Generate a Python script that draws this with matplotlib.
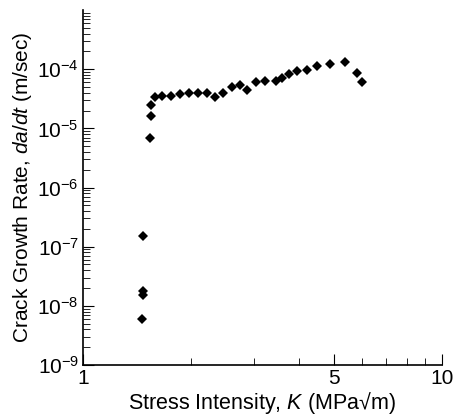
import matplotlib
matplotlib.use("Agg")
import matplotlib.pyplot as plt
from matplotlib.ticker import FixedLocator, LogLocator, NullFormatter

plt.rcParams['font.family'] = ['Liberation Sans', 'DejaVu Sans']
plt.rcParams['mathtext.fontset'] = 'custom'
plt.rcParams['mathtext.rm'] = 'Liberation Sans'
plt.rcParams['mathtext.it'] = 'Liberation Sans:italic'

# stress intensity K (MPa sqrt m) and crack growth rate da/dt (m/sec)
stress_k = [1.46, 1.47, 1.47, 1.47, 1.54, 1.55, 1.55, 1.59, 1.66, 1.76,
            1.86, 1.97, 2.09, 2.22, 2.33, 2.46, 2.60, 2.74, 2.86, 3.03,
            3.21, 3.45, 3.58, 3.75, 3.95, 4.21, 4.49, 4.88, 5.37, 5.80, 5.99]
growth_rate = [6.0e-9, 1.8e-8, 1.55e-8, 1.5e-7, 7.0e-6, 1.6e-5, 2.45e-5, 3.35e-5, 3.5e-5, 3.5e-5,
               3.77e-5, 3.92e-5, 3.92e-5, 3.92e-5, 3.35e-5, 3.92e-5, 4.95e-5, 5.36e-5, 4.41e-5, 6.02e-5,
               6.26e-5, 6.26e-5, 7.03e-5, 8.22e-5, 9.25e-5, 9.62e-5, 1.12e-4, 1.22e-4, 1.31e-4, 8.55e-5, 6.02e-5]

x_ticks = [1, 5, 10]
x_tick_labels = ["1", "5", "10"]
x_minor = [2, 3, 4, 6, 7, 8, 9]
y_decades = [1e-9, 1e-8, 1e-7, 1e-6, 1e-5, 1e-4]
y_tick_labels = [r"$10^{-9}$", r"$10^{-8}$", r"$10^{-7}$", r"$10^{-6}$", r"$10^{-5}$", r"$10^{-4}$"]

fig = plt.figure(figsize=(4.57, 4.18), dpi=100)
ax = fig.add_axes([0.1816, 0.1268, 0.7854, 0.8492])

ax.plot(stress_k, growth_rate, linestyle='none', marker='D', color='black',
        markersize=5.5, markeredgewidth=0)

ax.set_xscale('log')
ax.set_yscale('log')
ax.set_xlim(1, 10)
ax.set_ylim(1e-9, 1e-3)

ax.xaxis.set_major_locator(FixedLocator(x_ticks))
ax.set_xticklabels(x_tick_labels)
ax.xaxis.set_minor_locator(FixedLocator(x_minor))
ax.xaxis.set_minor_formatter(NullFormatter())

ax.yaxis.set_major_locator(FixedLocator(y_decades))
ax.set_yticklabels(y_tick_labels)
ax.yaxis.set_minor_locator(LogLocator(base=10, subs=range(2, 10), numticks=20))
ax.yaxis.set_minor_formatter(NullFormatter())

for side in ['top', 'right']:
    ax.spines[side].set_visible(False)
for side in ['left', 'bottom']:
    ax.spines[side].set_linewidth(1.2)

ax.tick_params(which='major', direction='in', length=8, width=0.8, labelsize=15, pad=3)
ax.tick_params(which='minor', direction='in', length=5, width=0.6)

ax.set_xlabel(r"Stress Intensity, $K$ (MPa√m)", fontsize=15.5, labelpad=1)
ax.set_ylabel(r"Crack Growth Rate, $da/dt$ (m/sec)", fontsize=15, labelpad=2)

fig.savefig("out.png", dpi=100)
